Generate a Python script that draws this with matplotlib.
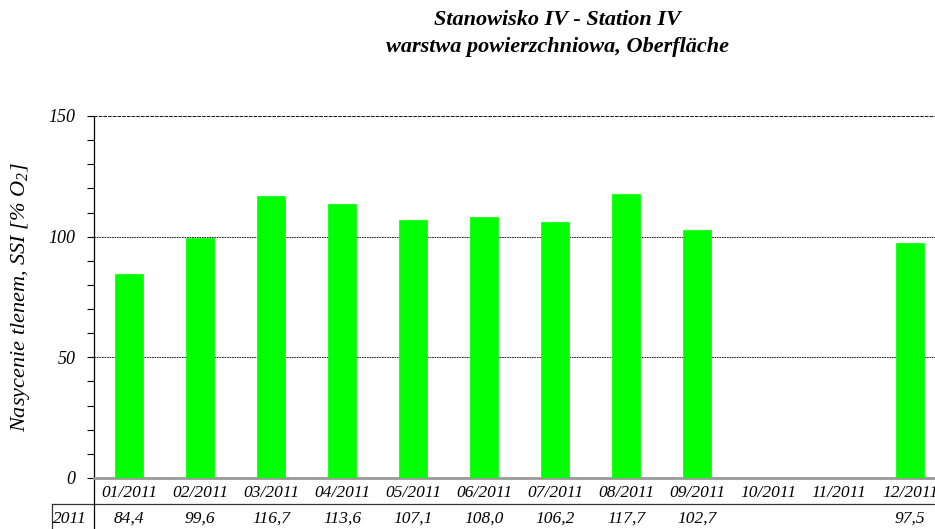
import matplotlib as mpl
mpl.use('Agg')
import matplotlib.pyplot as plt
import matplotlib.transforms as mtransforms
import numpy as np

months = ['01/2011', '02/2011', '03/2011', '04/2011', '05/2011', '06/2011',
          '07/2011', '08/2011', '09/2011', '10/2011', '11/2011', '12/2011']
ssi = [84.4, 99.6, 116.7, 113.6, 107.1, 108.0, 106.2, 117.7, 102.7,
       np.nan, np.nan, 97.5]
row_label = '2011'

plt.rcParams['font.family'] = 'Liberation Serif'
plt.rcParams['font.style'] = 'italic'
plt.rcParams['mathtext.fontset'] = 'custom'
plt.rcParams['mathtext.rm'] = 'Liberation Serif:italic'
plt.rcParams['mathtext.it'] = 'Liberation Serif:italic'

fig = plt.figure(figsize=(9.35, 5.29), dpi=100)
# plot area runs past the right edge like in the original export
ax = fig.add_axes([93.5 / 935, 51 / 529, 852 / 935, 362 / 529])

x = np.arange(len(months))
vals = np.array(ssi)
ok = ~np.isnan(vals)
ax.bar(x[ok], vals[ok], width=0.4, color='#00ff00', edgecolor='#00ff00',
       linewidth=0.5, zorder=3)

ax.set_xlim(-0.5, len(months) - 0.5)
ax.set_ylim(0, 150)
ax.set_yticks([0, 50, 100, 150])
ax.set_yticks(np.arange(0, 151, 10), minor=True)
ax.set_yticklabels(['0', '50', '100', '150'], fontsize=13)
ax.tick_params(axis='y', which='both', direction='out', length=5, width=0.8,
               pad=8)
ax.tick_params(axis='x', length=0, pad=5)
ax.set_xticks(x)
ax.set_xticklabels(months, fontsize=12.5)

for v in [50, 100]:
    ax.axhline(v, color='black', linestyle=(0, (2, 1)), linewidth=0.6, zorder=1)
ax.axhline(150, color='black', linestyle=(0, (2, 0.6)), linewidth=1.3, zorder=1)

for s in ['top', 'right']:
    ax.spines[s].set_visible(False)
ax.spines['bottom'].set_color('#999999')
ax.spines['bottom'].set_linewidth(2)
ax.spines['left'].set_linewidth(0.9)
ax.spines['left'].set_bounds(-0.145 * 150, 150)

ax.set_ylabel('Nasycenie tlenem, SSI [% O$_2$]', fontsize=16, labelpad=12)

# data table below the axis
trans = mtransforms.blended_transform_factory(ax.transData, ax.transAxes)
for i, v in enumerate(ssi):
    if not np.isnan(v):
        ax.text(i, -0.113, f'{v:.1f}'.replace('.', ','), transform=trans,
                ha='center', va='center', fontsize=12.5)
ax.text(-0.84, -0.113, row_label, transform=trans, ha='center', va='center',
        fontsize=12.5)
ax.plot([-1.08, 12], [-0.072, -0.072], transform=trans, color='#333333',
        linewidth=0.9, clip_on=False)
ax.plot([-1.08, -1.08], [-0.072, -0.2], transform=trans, color='#333333',
        linewidth=0.9, clip_on=False)

fig.text(0.596, 0.962, 'Stanowisko IV - Station IV', ha='center', va='center',
         fontsize=16, fontweight='bold')
fig.text(0.596, 0.912, 'warstwa powierzchniowa, Oberfl\u00e4che', ha='center',
         va='center', fontsize=16, fontweight='bold')

fig.savefig('out.png', dpi=100)
